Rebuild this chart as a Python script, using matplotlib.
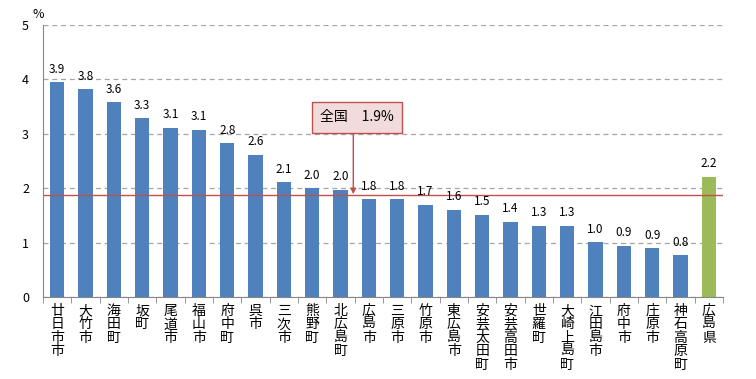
import matplotlib
matplotlib.use("Agg")
import matplotlib.pyplot as plt

plt.rcParams['font.family'] = ['Noto Sans CJK JP', 'DejaVu Sans']

# 市町別の値（％）
names = ['廿日市市', '大竹市', '海田町', '坂町', '尾道市', '福山市', '府中町', '呉市',
         '三次市', '熊野町', '北広島町', '広島市', '三原市', '竹原市', '東広島市',
         '安芸太田町', '安芸高田市', '世羅町', '大崎上島町', '江田島市', '府中市',
         '庄原市', '神石高原町', '広島県']
values = [3.95, 3.82, 3.58, 3.29, 3.11, 3.07, 2.83, 2.61, 2.11, 2.00, 1.97, 1.80,
          1.80, 1.70, 1.60, 1.51, 1.38, 1.31, 1.31, 1.01, 0.94, 0.90, 0.77, 2.21]
labels = ['3.9', '3.8', '3.6', '3.3', '3.1', '3.1', '2.8', '2.6', '2.1', '2.0', '2.0',
          '1.8', '1.8', '1.7', '1.6', '1.5', '1.4', '1.3', '1.3', '1.0', '0.9', '0.9',
          '0.8', '2.2']
national = 1.87
national_label = '全国　1.9%'

colors = ['#4f81bd'] * (len(names) - 1) + ['#9bbb59']
x = list(range(len(names)))

fig = plt.figure(figsize=(7.56, 3.79), dpi=100)
ax = fig.add_axes([0.0569, 0.2164, 0.8995, 0.7176])

ax.bar(x, values, width=0.5, color=colors, zorder=2)
for xi, v, lab in zip(x, values, labels):
    ax.text(xi, v + 0.12, lab, ha='center', va='bottom', fontsize=8.5, zorder=4)

ax.axhline(national, color='#c0504d', lw=1, zorder=3)

ax.set_xlim(-0.5, len(names) - 0.5)
ax.set_ylim(0, 5)
ax.set_yticks([0, 1, 2, 3, 4, 5])
ax.yaxis.grid(True, color='#a6a6a6', ls=(0, (4, 3)), lw=0.9, zorder=1)
ax.tick_params(axis='y', length=0, labelsize=9, pad=10)

ax.set_xticks(x)
ax.set_xticklabels(['\n'.join(n) for n in names], fontsize=10, linespacing=0.95)
ax.tick_params(axis='x', length=0, pad=5)
ax.set_xticks([i + 0.5 for i in range(-1, len(names))], minor=True)
ax.tick_params(axis='x', which='minor', length=4, color='#868686', direction='out')
for lab in ax.get_xticklabels():
    lab.set_va('top')

for s in ['top', 'right']:
    ax.spines[s].set_visible(False)
for s in ['left', 'bottom']:
    ax.spines[s].set_color('#868686')
    ax.spines[s].set_zorder(3)

# 全国の注記
ax.annotate('', xy=(10.45, national + 0.02), xytext=(10.45, 3.05),
            arrowprops=dict(arrowstyle='-|>', color='#c0504d', lw=1,
                            mutation_scale=8, shrinkA=0, shrinkB=0), zorder=5)
ax.text(10.58, 3.30, national_label, ha='center', va='center', fontsize=10, zorder=6,
        bbox=dict(boxstyle='square,pad=0.6', fc='#f2dcdb', ec='#c0504d', lw=1))

fig.text(38 / 756, 1 - 14 / 379, '%', ha='center', va='center', fontsize=9)

fig.savefig('out.png', dpi=100)
